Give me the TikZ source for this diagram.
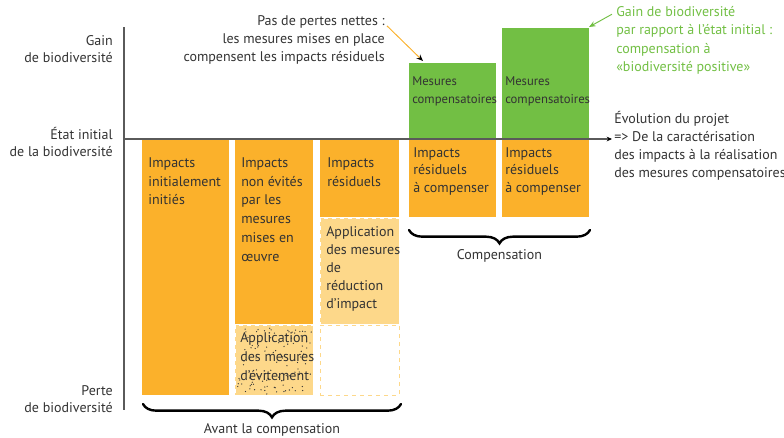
\documentclass[tikz,border=0pt]{standalone}
\usepackage{fontspec}
\setmainfont{PT Sans}
\usetikzlibrary{fit,decorations.pathreplacing,arrows.meta}
\definecolor{impact}{HTML}{FBB12B}
\definecolor{reduc}{HTML}{FDD88A}
\definecolor{compens}{HTML}{72BF44}
\definecolor{axe}{HTML}{5A5A5A}
\definecolor{texte}{HTML}{333333}
\begin{document}
\begin{tikzpicture}[x=0.75pt, y=-0.75pt,
    bar/.style={inner sep=0pt, outer sep=0pt},
    bartext/.style={anchor=north west, inner sep=0pt, align=left, text=texte, font=\fontsize{10.5}{14.2}\selectfont},
    mestext/.style={bartext, font=\fontsize{9.5}{13.5}\selectfont},
    axislabel/.style={anchor=east, inner sep=0pt, align=right, text=texte, font=\fontsize{10.5}{13.3}\selectfont},
    note/.style={inner sep=0pt, text=texte, font=\fontsize{10.5}{13.5}\selectfont},
    accolade/.style={decorate, decoration={brace, mirror, amplitude=10pt}, line width=1.8pt, line cap=round},
  ]
\useasboundingbox (0,0) rectangle (784,437);

% barres avant la compensation
\node[bar, fill=impact, fit={(142,140) (229,395)}] (b1) {};
\node[bar, fill=impact, fit={(235,140) (313,324)}] (b2) {};
\node[bar, fill=reduc, fit={(235,325) (313,395)}] (b2e) {};
\pgfmathsetseed{17}
\foreach \k in {1,...,110}
  \fill[black!80] ({237+75*rnd},{326+68*rnd}) circle (0.5pt);
\draw[white, dashed, line width=0.6pt] (b2e.north west) rectangle (b2e.south east);
\node[bar, fill=impact, fit={(320,140) (399,217)}] (b3) {};
\node[bar, fill=reduc, draw=white, dashed, fit={(320,218) (399,324)}] (b3r) {};
\node[bar, draw=reduc, dashed, line width=0.7pt, fit={(320,325) (399,395)}] (b3v) {};

% barres de compensation
\node[bar, fill=compens, fit={(409,63) (496,139)}] (c1) {};
\node[bar, fill=impact, fit={(409,140) (496,217)}] (b4) {};
\node[bar, fill=compens, fit={(502,28) (589,139)}] (c2) {};
\node[bar, fill=impact, fit={(502,140) (589,217)}] (b5) {};

% textes des barres
\node[bartext] (t1) at (148,157) {Impacts\\initialement\\initiés};
\node[bartext] (t2) at (241,157) {Impacts\\non évités\\par les\\mesures\\mises en\\œuvre};
\node[bartext] (t2e) at (240,332) {Application\\des mesures\\d’évitement};
\node[bartext] (t3) at (327,157) {Impacts\\résiduels};
\node[bartext, font=\fontsize{10.5}{13.6}\selectfont] (t3r) at (326,226) {Application\\des mesures\\de\\réduction\\d’impact};
\node[mestext] (m1) at (412,76) {Mesures\\compensatoires};
\node[mestext] (m2) at (505,76) {Mesures\\compensatoires};
\node[bartext, font=\fontsize{10.5}{13.2}\selectfont] (t4) at (413,147) {Impacts\\résiduels\\à compenser};
\node[bartext, font=\fontsize{10.5}{13.2}\selectfont] (t5) at (505,147) {Impacts\\résiduels\\à compenser};

% axes
\coordinate (haut) at (124,27);
\coordinate (bas) at (124,410);
\coordinate (origine) at (124,139);
\coordinate (fin) at (612,139);
\draw[axe, line width=0.8pt] (haut) -- (bas);
\draw[axe, line width=0.8pt, -{Stealth[black, length=4pt, width=3.5pt]}] (origine) -- (fin);

\node[axislabel] (gain) at (113,49) {Gain\\de biodiversité};
\node[axislabel] (etat) at (113,142) {État initial\\de la biodiversité};
\node[axislabel] (perte) at (113,399) {Perte\\de biodiversité};

\node[note, anchor=west, align=left] (evol) at (614,146) {Évolution du projet\\=> De la caractérisation\\des impacts à la réalisation\\des mesures compensatoires};
\node[note, anchor=east, align=right] (pertes) at (385,39.5) {Pas de pertes nettes :\\les mesures mises en place\\compensent les impacts résiduels};
\node[note, anchor=west, align=left, text=compens, font=\fontsize{10.5}{13.8}\selectfont] (positif) at (616,40.5) {Gain de biodiversité\\par rapport à l’état initial :\\compensation à\\«biodiversité positive»};

% fleches
\draw[impact, line width=0.7pt, -{Stealth[black, length=5pt, width=4pt]}] ([shift={(2,11)}]pertes.north east) -- ([shift={(14,-2)}]c1.north west);
\draw[compens, line width=0.7pt, -{Stealth[length=5pt, width=4pt]}] ([shift={(-4,8)}]positif.north west) -- ([shift={(0,-1)}]c2.north east);

% accolades
\draw[accolade] (143,404) -- (401,404) node[midway, below=14pt, note] (avant) {Avant la compensation};
\draw[accolade] (409,230) -- (590,230) node[midway, below=14pt, note] (comp) {Compensation};
\end{tikzpicture}
\end{document}
